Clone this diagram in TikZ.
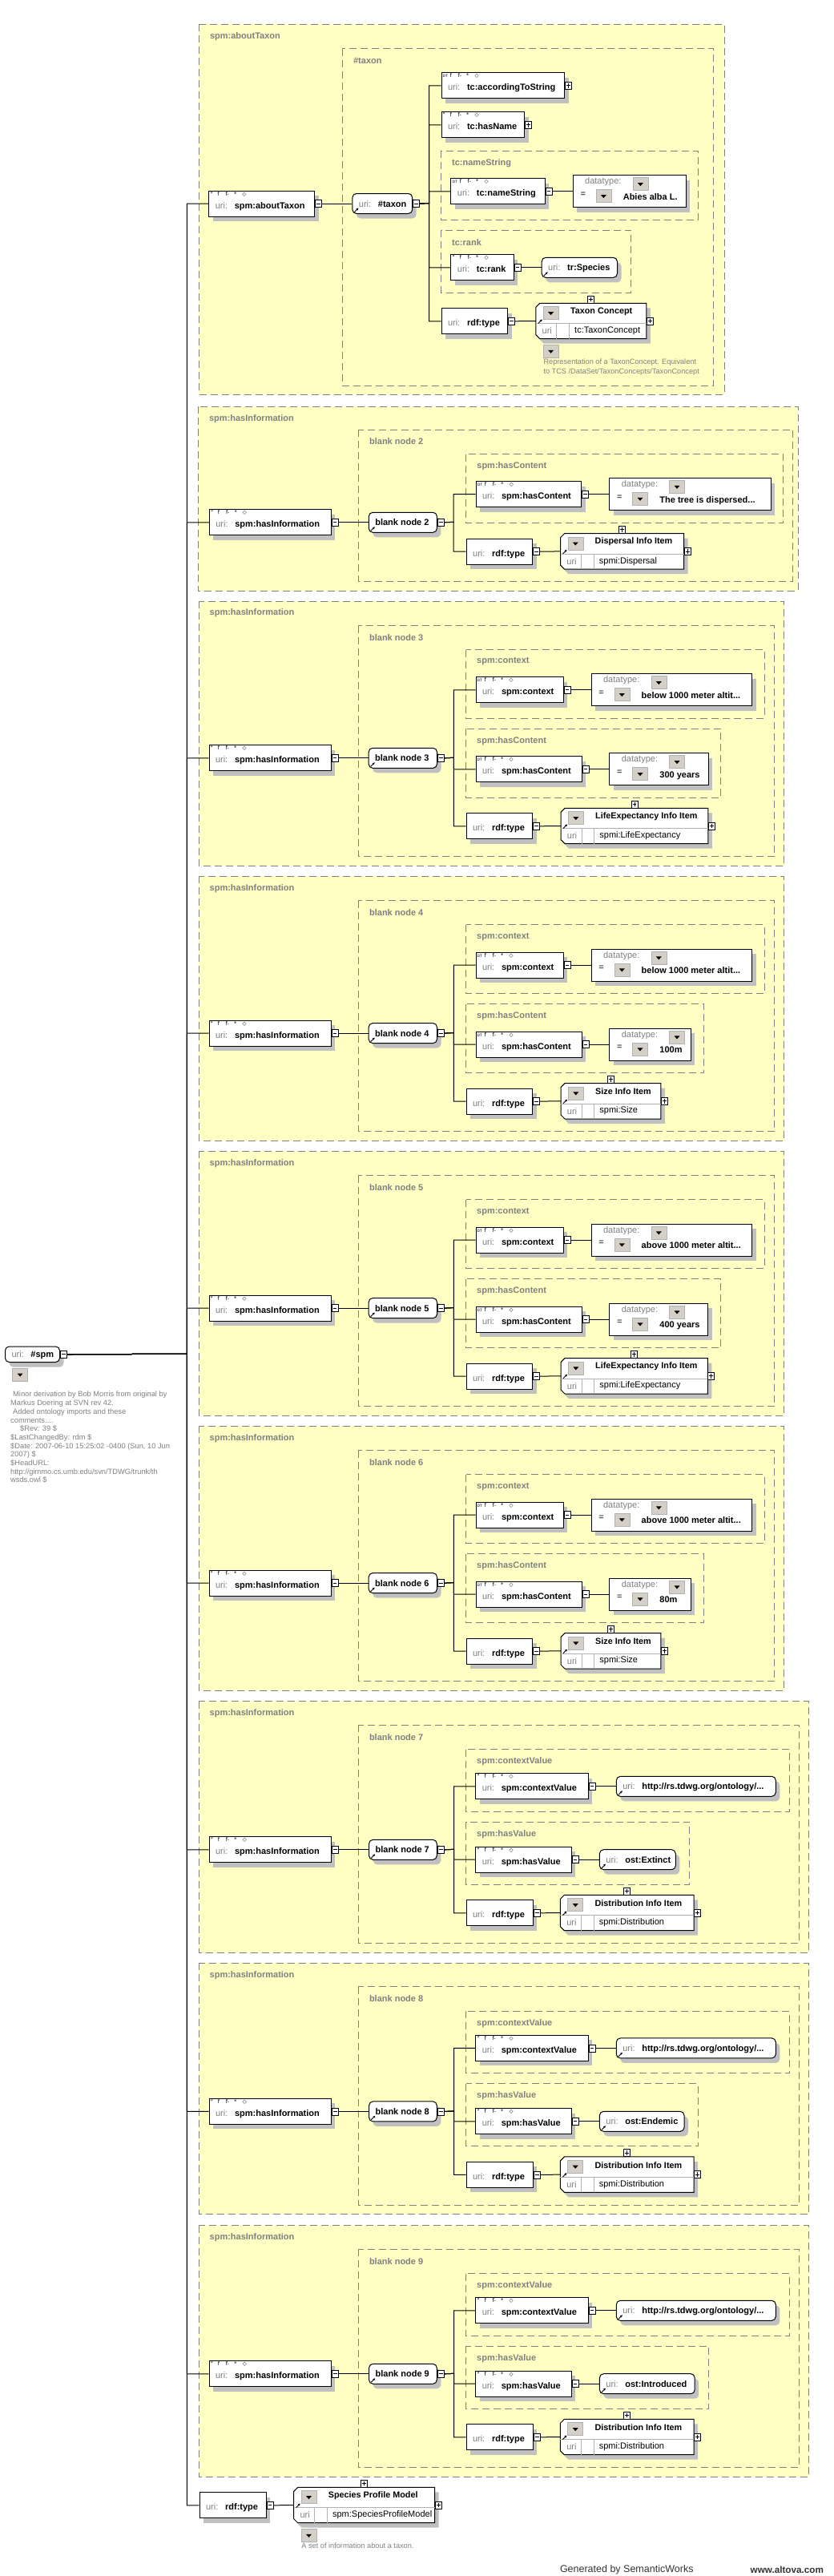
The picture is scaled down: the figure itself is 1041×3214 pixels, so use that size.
\documentclass[tikz,border=0pt]{standalone}
\usepackage{fontspec}
\setmainfont{Liberation Sans}
\newfontfamily\dejavu{DejaVu Sans}
\usetikzlibrary{shadows,arrows.meta}

\definecolor{panelfill}{HTML}{FFFFC4}
\definecolor{panelline}{HTML}{808080}
\definecolor{shadowgray}{HTML}{C0C0C0}
\definecolor{btnface}{HTML}{D4D0C8}
\definecolor{urigray}{HTML}{808080}

\newcommand{\bx}{\fontsize{11}{13}\selectfont}
\newcommand{\uritag}{\makebox[24pt][l]{\textcolor{urigray}{\mdseries uri:}}}
\newcommand{\icoset}[1]{\makebox[9pt][l]{#1}\makebox[10pt][l]{f}\makebox[10.5pt][l]{f-}\makebox[10.5pt][l]{*}◇}
\newcommand{\icoO}{\icoset{°}}
\newcommand{\icoDT}{\icoset{\fontsize{4.5}{5}\selectfont DT}}

\tikzset{
  panel/.style={draw=panelline, fill=panelfill, line width=1pt, dash pattern=on 9pt off 5pt},
  panellabel/.style={anchor=west, inner sep=0pt, text=panelline, font=\bx\bfseries},
  boxshadow/.style={drop shadow={shadow xshift=5pt, shadow yshift=-6pt, fill=shadowgray, opacity=1}},
  propbox/.style={draw, fill=white, line width=1pt, anchor=north west, inner xsep=8pt,
    inner ysep=0pt, text height=22pt, text depth=10pt, boxshadow},
  roundbox/.style={propbox, rounded corners=5pt, text height=16.5pt, text depth=8.5pt},
  litbox/.style={draw, fill=white, line width=1pt, anchor=north west, inner sep=0pt,
    minimum height=40pt, boxshadow},
  classline/.style={draw=black, fill=white, line width=1pt},
  sepline/.style={draw=gray!60, line width=0.8pt},
  greytext/.style={inner sep=0pt, text=urigray, font=\bx\mdseries},
  icons/.style={anchor=north west, inner sep=0pt, font=\dejavu\fontsize{6.5}{7}\selectfont},
  tgl/.style={draw, fill=white, line width=0.8pt, minimum width=8pt, minimum height=9pt, inner sep=0pt},
  tglminus/.style={tgl, path picture={\draw[line width=0.8pt]
    ([xshift=1.6pt]path picture bounding box.west) -- ([xshift=-1.6pt]path picture bounding box.east);}},
  tglplus/.style={tgl, path picture={\draw[line width=0.8pt]
    ([xshift=1.6pt]path picture bounding box.west) -- ([xshift=-1.6pt]path picture bounding box.east)
    ([yshift=1.6pt]path picture bounding box.south) -- ([yshift=-1.6pt]path picture bounding box.north);}},
  dropbtn/.style={fill=btnface, draw=gray!60, line width=0.6pt, minimum width=19pt,
    minimum height=16pt, inner sep=0pt, path picture={\fill[black]
    ([shift={(-3.5pt,1.5pt)}]path picture bounding box.center) -- ++(7pt,0pt) -- ++(-3.5pt,-4pt) -- cycle;}},
  cornerarrow/.style={line width=0.9pt, -{Stealth[length=3pt,width=3pt]}},
  wire/.style={line width=1pt},
  note/.style={inner sep=0pt, align=left, text=urigray, font=\fontsize{9.2}{11.7}\selectfont},
}

% dashed group with its title
\newcommand{\panel}[6]{%
  \draw[panel] (#2,#3) rectangle (#4,#5);
  \node[panellabel] (#1) at ([shift={(13.5,15)}]#2,#3) {#6};}
% property box: name, x, y, width, icons, label, toggle
\newcommand{\propnode}[7]{%
  \node[propbox] (#1) at (#2,#3) {\hbox to \dimexpr#4pt-16pt\relax{\uritag\textbf{#6}\hfil}};
  \node[icons] (#1-i) at ([shift={(2,1.5)}]#1.north west) {#5};
  \node[#7, anchor=west] (#1-t) at (#1.east) {};}
\newcommand{\typenode}[4]{%
  \node[propbox] (#1) at (#2,#3) {\hbox to \dimexpr#4pt-16pt\relax{\uritag\textbf{rdf:type}\hfil}};
  \node[tglminus, anchor=west] (#1-t) at (#1.east) {};}
\newcommand{\urinode}[5]{%
  \node[roundbox] (#1) at (#2,#3) {\hbox to \dimexpr#4pt-16pt\relax{\uritag\textbf{#5}\hfil}};
  \draw[cornerarrow] ([shift={(3,-2.5)}]#1.south west) -- ++(5,-5);}
\newcommand{\blanknode}[5]{%
  \node[roundbox] (#1) at (#2,#3) {\hbox to \dimexpr#4pt-16pt\relax{\textbf{#5}\hfil}};
  \draw[cornerarrow] ([shift={(3,-2.5)}]#1.south west) -- ++(5,-5);
  \node[tglminus, anchor=west] (#1-t) at (#1.east) {};}
% literal: name, x, y, width, value
\newcommand{\litnode}[5]{%
  \node[litbox, minimum width=#4pt] (#1) at (#2,#3) {};
  \node[greytext, anchor=west] (#1-dt) at ([shift={(15.4,8.6)}]#1.north west) {datatype:};
  \node[dropbtn, anchor=north west] (#1-b1) at ([shift={(75,3)}]#1.north west) {};
  \node[inner sep=0pt, anchor=west] (#1-eq) at ([shift={(9.7,24.5)}]#1.north west) {=};
  \node[dropbtn, anchor=north west] (#1-b2) at ([shift={(29,18)}]#1.north west) {};
  \node[inner sep=0pt, anchor=base west, font=\bx\bfseries] (#1-v) at ([shift={(63,31)}]#1.north west) {#5};}
% class box: name, x, y, width, title, uri
\newcommand{\classnode}[6]{%
  \node[inner sep=0pt, minimum width=#4pt, minimum height=44pt, anchor=north west] (#1) at (#2,#3) {};
  \filldraw[classline, boxshadow] ([xshift=5pt]#1.north west) -- (#1.north east) -- (#1.south east)
    -- ([xshift=5pt]#1.south west) -- ([yshift=5pt]#1.south west) -- ([yshift=-5pt]#1.north west) -- cycle;
  \draw[sepline] ([yshift=-25.5pt]#1.north west) -- ([yshift=-25.5pt]#1.north east);
  \draw[sepline] ([shift={(26,25.5)}]#1.north west) -- ([xshift=26pt]#1.south west);
  \draw[sepline] ([shift={(41.5,25.5)}]#1.north west) -- ([xshift=41.5pt]#1.south west);
  \node[dropbtn, anchor=north west] (#1-b) at ([shift={(9,4)}]#1.north west) {};
  \node[inner sep=0pt, anchor=west, font=\fontsize{10.8}{13}\selectfont\bfseries] (#1-n)
    at ([shift={(43,10.5)}]#1.north west) {#5};
  \node[greytext, anchor=west] (#1-u) at ([shift={(7.7,34.5)}]#1.north west) {uri};
  \node[inner sep=0pt, anchor=west] (#1-v) at ([shift={(48.2,34.5)}]#1.north west) {#6};
  \node[tglplus, anchor=south] (#1-tt) at (#1.north) {};
  \node[tglplus, anchor=west] (#1-t) at (#1.east) {};
  \draw[cornerarrow] ([shift={(3,3)}]#1.west) -- ++(5,-5);}
\newcommand{\classnote}[2]{%
  \node[dropbtn, anchor=north west] (#1-db) at ([shift={(9,51.7)}]#1.north west) {};
  \node[note, anchor=north west] (#1-d) at ([shift={(9.5,69.5)}]#1.north west) {#2};}

\begin{document}
\begin{tikzpicture}[x=1pt, y=-1pt, font=\bx]
  \useasboundingbox (0,0) rectangle (1041,3214);
  % spm:aboutTaxon
  \panel{ptaxon}{248.4}{30.3}{904}{492}{spm:aboutTaxon}
  \panel{ptaxonin}{427.4}{60.7}{890.6}{481.3}{\#taxon}
  \panel{pname}{550.5}{188.3}{871.4}{274.3}{tc:nameString}
  \panel{prank}{550.5}{287.3}{787.6}{365.3}{tc:rank}
  \propnode{about}{260.3}{237.5}{132.1}{\icoO}{spm:aboutTaxon}{tglminus}
  \urinode{taxon}{439.4}{241}{74.8}{\#taxon}
  \node[tglminus, anchor=west] (taxon-t) at (taxon.east) {};
  \propnode{accord}{550.5}{90.3}{153.8}{\icoDT}{tc:accordingToString}{tglplus}
  \propnode{hasname}{550.5}{139.3}{103.8}{\icoO}{tc:hasName}{tglplus}
  \propnode{namestr}{562.4}{222.3}{117.1}{\icoDT}{tc:nameString}{tglminus}
  \litnode{namelit}{714.6}{218.3}{141}{Abies alba L.}
  \propnode{rank}{562.4}{317.3}{78.2}{\icoO}{tc:rank}{tglminus}
  \urinode{species}{675.7}{320.8}{94.3}{tr:Species}
  \typenode{taxtype}{550.5}{384.3}{82.5}
  \classnode{taxcls}{668.8}{378.3}{137.6}{Taxon Concept}{tc:TaxonConcept}
  \classnote{taxcls}{Representation of a TaxonConcept. Equivalent\\to TCS /DataSet/TaxonConcepts/TaxonConcept}
  \coordinate (taxbus) at (535.5,253.5);
  \draw[wire] (about-t.east) -- (taxon.west);
  \foreach \c in {accord,hasname,namestr,rank,taxtype}
    \draw[wire] (taxon-t.east) -- (taxbus) |- (\c.west);
  \draw[wire] (namestr-t.east) -- (namelit.west);
  \draw[wire] (rank-t.east) -- (species.west);
  \draw[wire] (taxtype-t.east) -- (taxcls.west);

  % blank node 2
  \panel{pinfo2}{247.4}{507.3}{996}{737.3}{spm:hasInformation}
  \panel{pbn2}{447.4}{536}{989.5}{725}{blank node 2}
  \panel{pcont2}{581.7}{566.7}{977.6}{652.7}{spm:hasContent}
  \propnode{info2}{260.8}{635.3}{151.7}{\icoO}{spm:hasInformation}{tglminus}
  \blanknode{bn2}{459.8}{638.8}{85.1}{blank node 2}
  \propnode{cont2}{593.6}{600}{131.4}{\icoDT}{spm:hasContent}{tglminus}
  \litnode{contv2}{760.2}{596}{201.5}{The tree is dispersed...}
  \typenode{type2}{581.7}{671.7}{82.5}
  \classnode{cls2}{699.5}{665.7}{153.8}{Dispersal Info Item}{spmi:Dispersal}
  \coordinate (bus2) at (566.2,651.3);
  \draw[wire] (info2-t.east) -- (bn2.west);
  \foreach \c in {cont2,type2}
    \draw[wire] (bn2-t.east) -- (bus2) |- (\c.west);
  \draw[wire] (cont2-t.east) -- (contv2.west);
  \draw[wire] (type2-t.east) -- (cls2.west);

  % blank nodes 3-6
  \foreach \n/\ty/\ctx/\val/\pr/\lw/\cls/\cw in {%
      3/750/below/300 years/899.6/123.3/LifeExpectancy/183.5,
      4/1093.3/below/100m/878.6/101.5/Size/124.4,
      5/1436.3/above/400 years/899.6/122.8/LifeExpectancy/183,
      6/1779.3/above/80m/878.6/101.5/Size/124.4}{%
    \begin{scope}[shift={(0,\ty)}]
      \panel{pinfo\n}{248}{0}{978.6}{330}{spm:hasInformation}
      \panel{pbn\n}{447.4}{30.5}{966.6}{318.4}{blank node \n}
      \panel{pctx\n}{581.5}{60.5}{954.2}{146}{spm:context}
      \panel{pcont\n}{581.5}{159.3}{\pr}{245.3}{spm:hasContent}
      \propnode{info\n}{260.5}{179.3}{152}{\icoO}{spm:hasInformation}{tglminus}
      \blanknode{bn\n}{459.7}{182.8}{85.3}{blank node \n}
      \propnode{ctx\n}{593.5}{94.3}{109}{\icoDT}{spm:context}{tglminus}
      \litnode{ctxv\n}{737.5}{90.3}{200.5}{\ctx\ 1000 meter altit...}
      \propnode{cont\n}{593.5}{193.3}{132}{\icoDT}{spm:hasContent}{tglminus}
      \litnode{contv\n}{760.2}{189.3}{\lw}{\val}
      \typenode{type\n}{581.5}{264.3}{82.8}
      \classnode{cls\n}{700}{258.3}{\cw}{\cls\ Info Item}{spmi:\cls}
      \coordinate (bus\n) at (566.4,195.3);
      \draw[wire] (info\n-t.east) -- (bn\n.west);
      \foreach \c in {ctx,cont,type}
        \draw[wire] (bn\n-t.east) -- (bus\n) |- (\c\n.west);
      \draw[wire] (ctx\n-t.east) -- (ctxv\n.west);
      \draw[wire] (cont\n-t.east) -- (contv\n.west);
      \draw[wire] (type\n-t.east) -- (cls\n.west);
    \end{scope}}

  % blank nodes 7-9
  \foreach \n/\ty/\hv/\ow/\pr in {%
      7/2122.7/Extinct/94.9/860.6,
      8/2449.3/Endemic/105.6/871.3,
      9/2776.7/Introduced/118.8/884.6}{%
    \begin{scope}[shift={(0,\ty)}]
      \panel{pinfo\n}{248}{0}{1009.6}{313.3}{spm:hasInformation}
      \panel{pbn\n}{447.3}{29.6}{997.3}{302}{blank node \n}
      \panel{pcv\n}{581.5}{60}{985.6}{137.6}{spm:contextValue}
      \panel{phv\n}{581.5}{150.6}{\pr}{228.6}{spm:hasValue}
      \propnode{info\n}{260.6}{168.6}{152.1}{\icoO}{spm:hasInformation}{tglminus}
      \blanknode{bn\n}{460.1}{172.1}{84.7}{blank node \n}
      \propnode{cv\n}{593.3}{89.6}{140.3}{\icoO}{spm:contextValue}{tglminus}
      \urinode{cvv\n}{768.8}{93.1}{199}{http://rs.tdwg.org/ontology/...}
      \propnode{hv\n}{593.3}{181}{119.3}{\icoO}{spm:hasValue}{tglminus}
      \urinode{hvv\n}{747.9}{184.5}{\ow}{ost:\hv}
      \typenode{type\n}{581.5}{247.6}{83.2}
      \classnode{cls\n}{699.4}{241.6}{166.3}{Distribution Info Item}{spmi:Distribution}
      \coordinate (bus\n) at (566.7,184.6);
      \draw[wire] (info\n-t.east) -- (bn\n.west);
      \foreach \c in {cv,hv,type}
        \draw[wire] (bn\n-t.east) -- (bus\n) |- (\c\n.west);
      \draw[wire] (cv\n-t.east) -- (cvv\n.west);
      \draw[wire] (hv\n-t.east) -- (hvv\n.west);
      \draw[wire] (type\n-t.east) -- (cls\n.west);
    \end{scope}}

  % rdf:type of #spm
  \typenode{spmtype}{248.6}{3109.3}{82.9}
  \classnode{spmcls}{366.7}{3103.3}{175.6}{Species Profile Model}{spm:SpeciesProfileModel}
  \classnote{spmcls}{A set of information about a taxon.}
  \draw[wire] (spmtype-t.east) -- (spmcls.west);

  % #spm
  \node[roundbox, text height=13.5pt, text depth=6pt] (spm) at (6,1679.5)
    {\hbox to 52pt{\uritag\textbf{\#spm}\hfil}};
  \node[tglminus, anchor=west] (spm-t) at (spm.east) {};
  \node[dropbtn, anchor=north west] (spm-db) at (15.3,1706.7) {};
  \node[note, anchor=north west, font=\fontsize{9.3}{10.7}\selectfont] (spm-note) at (13,1736)
    {\hspace*{3pt}Minor derivation by Bob Morris from original by\\
     Markus Doering at SVN rev 42.\\
     \hspace*{3pt}Added ontology imports and these\\
     comments....\\
     \hspace*{12pt}\$Rev: 39 \$\\
     \$LastChangedBy: rdm \$\\
     \$Date: 2007-06-10 15:25:02 -0400 (Sun, 10 Jun\\
     2007) \$\\
     \$HeadURL:\\
     http://gimmo.cs.umb.edu/svn/TDWG/trunk/th\\
     wsds.owl \$};
  \coordinate (rootbus) at (233.3,1689.25);
  \foreach \c in {about,info2,info3,info4,info5,info6,info7,info8,info9,spmtype}
    \draw[wire] (spm-t.east) -- (rootbus) |- (\c.west);

  % footer
  \node[anchor=west, inner sep=0pt, text=black!80, font=\fontsize{12.5}{14}\selectfont] (gen)
    at (698.8,3206.7) {Generated by SemanticWorks};
  \node[anchor=west, inner sep=0pt, text=black!80, font=\fontsize{11.7}{14}\selectfont\bfseries] (web)
    at (936.5,3206.7) {www.altova.com};
\end{tikzpicture}
\end{document}
